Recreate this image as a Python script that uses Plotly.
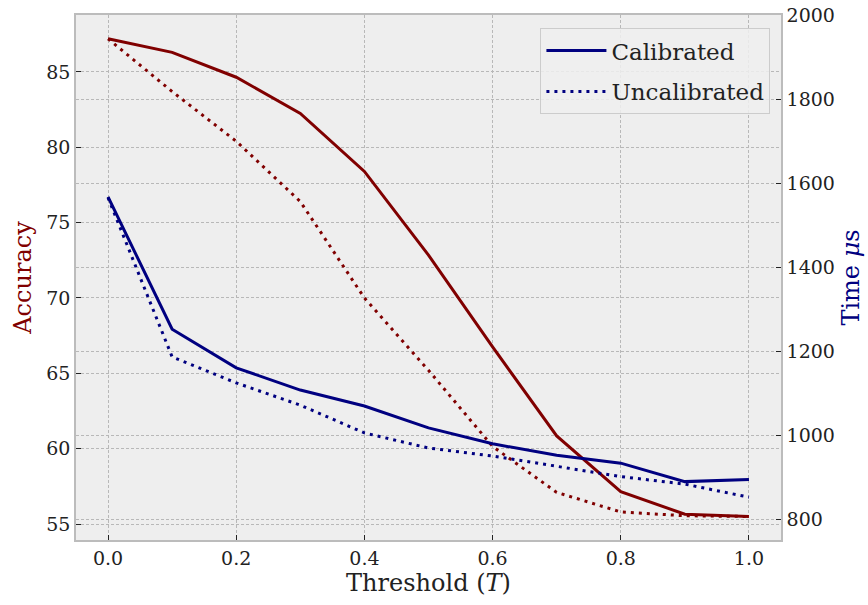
import plotly.graph_objects as go

thresholds = [0.0, 0.1, 0.2, 0.3, 0.4, 0.5, 0.6, 0.7, 0.8, 0.9, 1.0]
acc_calibrated = [87.2, 86.3, 84.65, 82.25, 78.4, 72.85, 66.75, 60.85, 57.15, 55.65, 55.5]
acc_uncalibrated = [87.2, 83.7, 80.4, 76.4, 70.0, 65.2, 60.15, 57.1, 55.8, 55.55, 55.5]
time_calibrated = [1567, 1252, 1160, 1107, 1069, 1017, 979, 952, 933, 889, 894]
time_uncalibrated = [1565, 1186, 1124, 1071, 1005, 969, 950, 926, 901, 883, 852]

RED = "#800000"
NAVY = "#000080"
FONT = "'DejaVu Serif', serif"

fig = go.Figure()
fig.add_trace(go.Scatter(x=thresholds, y=acc_calibrated, mode="lines",
                         line=dict(color=RED, width=3), showlegend=False, yaxis="y"))
fig.add_trace(go.Scatter(x=thresholds, y=acc_uncalibrated, mode="lines",
                         line=dict(color=RED, width=3, dash="3px,5px"), showlegend=False, yaxis="y"))
fig.add_trace(go.Scatter(x=thresholds, y=time_calibrated, mode="lines", name="Calibrated",
                         legendgroup="a", line=dict(color=NAVY, width=3), yaxis="y2"))
fig.add_trace(go.Scatter(x=thresholds, y=time_uncalibrated, mode="lines", name="Uncalibrated",
                         legendgroup="b", line=dict(color=NAVY, width=3, dash="3px,5px"), yaxis="y2"))

grid = dict(showgrid=True, gridcolor="#b8b8b8", griddash="3px,2px", gridwidth=0.8)
common = dict(ticks="inside", ticklen=5, tickcolor="#222222", tickwidth=1.2,
              showline=True, linecolor="#bcbcbc", linewidth=1.5, zeroline=False,
              tickfont=dict(family=FONT, size=19, color="#222222"))

fig.update_layout(
    width=868, height=605,
    margin=dict(l=76, r=87, t=15, b=65, autoexpand=False),
    paper_bgcolor="white", plot_bgcolor="#eeeeee",
    font=dict(family=FONT, color="#222222"),
    xaxis=dict(range=[-0.05, 1.05], tickvals=[0, 0.2, 0.4, 0.6, 0.8, 1.0],
               ticktext=["0.0", "0.2", "0.4", "0.6", "0.8", "1.0"], mirror=True, automargin=False,
               title=dict(text="Threshold (<i>T</i>)", font=dict(family=FONT, size=24, color="#222222"), standoff=6),
               **grid, **common),
    yaxis=dict(range=[53.94, 88.78], tickvals=[55, 60, 65, 70, 75, 80, 85], automargin=False,
               title=dict(text="Accuracy", font=dict(family=FONT, size=24, color=RED), standoff=8),
               **grid, **common),
    yaxis2=dict(range=[750, 2000], tickvals=[800, 1000, 1200, 1400, 1600, 1800, 2000],
                overlaying="y", side="right", automargin=False,
                title=dict(text="Time <i>μ</i>s", font=dict(family=FONT, size=24, color=NAVY), standoff=8),
                **grid, **common),
    legend=dict(x=0.985, y=0.975, xanchor="right", yanchor="top",
                bgcolor="rgba(238,238,238,0.85)", bordercolor="#cccccc", borderwidth=1,
                font=dict(family=FONT, size=23, color="#222222"), itemwidth=60,
                tracegroupgap=8),
)

fig.write_html("out.html")
